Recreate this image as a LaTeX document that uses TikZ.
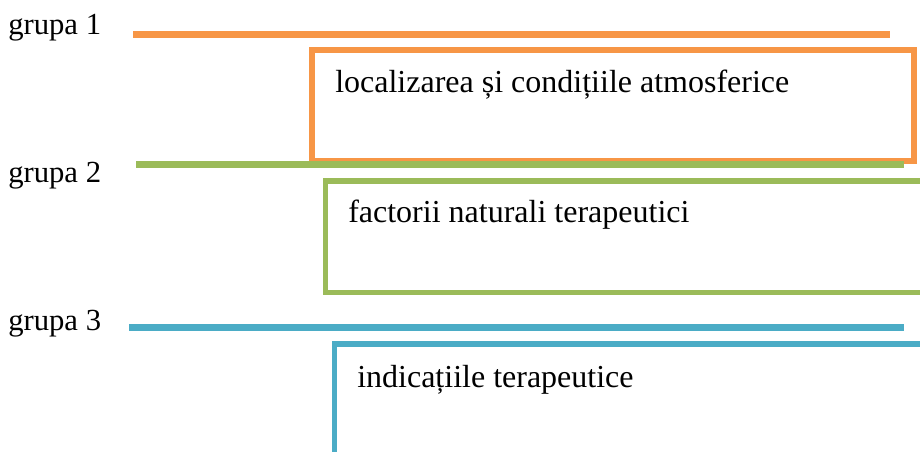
\documentclass[tikz,border=0pt]{standalone}
\usepackage{fontspec}
\setmainfont{Liberation Serif}
\usetikzlibrary{positioning}
\definecolor{portocaliu}{HTML}{F79646}
\definecolor{verde}{HTML}{9BBB59}
\definecolor{albastru}{HTML}{4BACC6}
\tikzset{
  eticheta/.style={anchor=base west,inner sep=0pt,font=\fontsize{23}{27}\selectfont},
  textcadru/.style={anchor=base west,inner sep=0pt,font=\fontsize{24}{28}\selectfont},
  linie/.style={line width=4.8pt},
  cadru/.style={line width=4.4pt},
}

\begin{document}
\begin{tikzpicture}[line cap=butt,line join=miter,x=0.75pt,y=-0.75pt]
\useasboundingbox (0,0) rectangle (920,452);
\clip (0,0) rectangle (920,452);
% grupa 1
\node[eticheta] (g1) at (8,35) {grupa 1};
\coordinate (l1a) at (133,34.5);
\coordinate (l1b) at (890,34.5);
\draw [linie,color=portocaliu] (l1a)-- (l1b);
\draw [cadru,color=portocaliu] (312,50) rectangle (914,161);
\node[textcadru] (t1) at (335,93) {localizarea și condițiile atmosferice};
% grupa 2
\node[eticheta] (g2) at (8,183) {grupa 2};
\coordinate (l2a) at (136,164.5);
\coordinate (l2b) at (904,164.5);
\draw [linie,color=verde] (l2a)-- (l2b);
\draw [cadru,color=verde] (325.5,181) rectangle (960,292.5);
\node[textcadru] (t2) at (348,223) {factorii naturali terapeutici};
% grupa 3
\node[eticheta] (g3) at (8,330) {grupa 3};
\coordinate (l3a) at (129,327.5);
\coordinate (l3b) at (904,327.5);
\draw [linie,color=albastru] (l3a)-- (l3b);
\draw [cadru,color=albastru] (334.5,480)-- (334.5,344)-- (960,344);
\node[textcadru] (t3) at (357,387) {indicațiile terapeutice};
\end{tikzpicture}
\end{document}
